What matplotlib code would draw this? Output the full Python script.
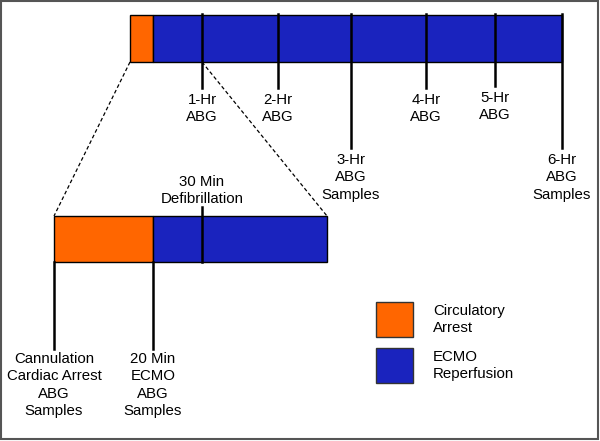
import matplotlib.pyplot as plt
from matplotlib.patches import Rectangle

plt.rcParams['font.family'] = ['Liberation Sans', 'DejaVu Sans']

orange = '#ff6600'
blue = '#1a23be'

# top timeline (x positions along the diagram)
top_arrest = (130, 153)
top_ecmo = (153, 562)
hour_x = [202, 278, 351, 426, 495, 562]
hour_end = [88, 88, 148, 88, 86, 148]
hour_labels = ['1-Hr\nABG', '2-Hr\nABG', '3-Hr\nABG\nSamples',
               '4-Hr\nABG', '5-Hr\nABG', '6-Hr\nABG\nSamples']

# zoomed timeline
zoom_arrest = (54, 153)
zoom_ecmo = (153, 327)
defib_x = 202
sample_x = [54, 153]
sample_labels = ['Cannulation\nCardiac Arrest\nABG\nSamples',
                 '20 Min\nECMO\nABG\nSamples']

legend_labels = ['Circulatory\nArrest', 'ECMO\nReperfusion']
legend_colors = [orange, blue]

fig = plt.figure(figsize=(6, 4.41), dpi=100)
ax = fig.add_axes([0, 0, 1, 1])
ax.set_xlim(0, 600)
ax.set_ylim(441, 0)
ax.axis('off')

fs = 10.8
ls = 1.3

# top bar
ax.add_patch(Rectangle((top_arrest[0], 15), top_arrest[1] - top_arrest[0], 47,
                       facecolor=orange, edgecolor='black', lw=1))
ax.add_patch(Rectangle((top_ecmo[0], 15), top_ecmo[1] - top_ecmo[0], 47,
                       facecolor=blue, edgecolor='black', lw=1))
for x, yb, lab in zip(hour_x, hour_end, hour_labels):
    ax.plot([x, x], [14, yb], color='black', lw=1.8)
    ax.text(x, yb + 5, lab, ha='center', va='top', fontsize=fs, linespacing=ls)

# dashed zoom lines
ax.plot([top_arrest[0], zoom_arrest[0]], [62, 216], color='black', lw=0.9, ls=(0, (3, 2)))
ax.plot([hour_x[0], zoom_ecmo[1]], [62, 216], color='black', lw=0.9, ls=(0, (3, 2)))

# zoomed bar
ax.add_patch(Rectangle((zoom_arrest[0], 216), zoom_arrest[1] - zoom_arrest[0], 46,
                       facecolor=orange, edgecolor='black', lw=1))
ax.add_patch(Rectangle((zoom_ecmo[0], 216), zoom_ecmo[1] - zoom_ecmo[0], 46,
                       facecolor=blue, edgecolor='black', lw=1))
ax.plot([defib_x, defib_x], [207, 262], color='black', lw=1.8)
ax.text(defib_x, 206, '30 Min\nDefibrillation', ha='center', va='bottom',
        fontsize=fs, linespacing=ls)
for x, lab in zip(sample_x, sample_labels):
    ax.plot([x, x], [262, 349], color='black', lw=1.8)
    ax.text(x, 352, lab, ha='center', va='top', fontsize=fs, linespacing=ls)

# legend
for i, (lab, c) in enumerate(zip(legend_labels, legend_colors)):
    y0 = 302 + i * 46
    ax.add_patch(Rectangle((376, y0), 37, 35, facecolor=c, edgecolor='#333333', lw=1))
    ax.text(433, y0 + 2, lab, ha='left', va='top', fontsize=fs, linespacing=ls)

# frame
ax.add_patch(Rectangle((1, 1), 597, 438, facecolor='none', edgecolor='#555555', lw=1.5))

fig.savefig('out.png', dpi=100)
